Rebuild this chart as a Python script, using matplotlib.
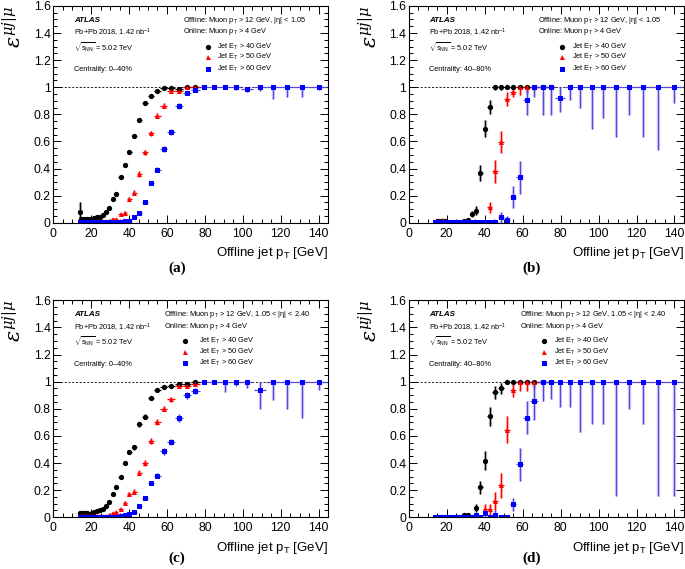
import matplotlib
matplotlib.use("Agg")
import matplotlib.pyplot as plt
from matplotlib.ticker import MultipleLocator
import numpy as np

plt.rcParams['font.family'] = ['Liberation Sans', 'DejaVu Sans']
plt.rcParams['mathtext.fontset'] = 'custom'
plt.rcParams['mathtext.rm'] = 'Liberation Sans'
plt.rcParams['mathtext.it'] = 'Liberation Sans:italic'
plt.rcParams['mathtext.bf'] = 'Liberation Sans:bold'
plt.rcParams['mathtext.default'] = 'regular'

# bin centres of offline jet pT [GeV]
pt_bins = [13.9, 14.8, 15.8, 16.8, 17.9, 19.0, 20.2, 21.5, 22.9, 24.4, 26.0, 27.7, 29.4,
           31.3, 33.3, 35.5, 37.8, 40.2, 42.8, 45.5, 48.5, 51.6, 54.9, 58.4, 62.2, 66.2,
           70.5, 75.0, 79.8, 85.0, 90.4, 96.3, 102.5, 109.1, 116.1, 123.6, 131.5, 140.0]

# (a) |eta| < 1.05, 0-40 %
a_jet40 = [0.08, 0.03, 0.03, 0.025, 0.025, 0.03, 0.03, 0.035, 0.04, 0.045, 0.055, 0.08, 0.105,
           0.175, 0.21, 0.34, 0.425, 0.525, 0.64, 0.76, 0.885, 0.935, 0.97, 0.993, 0.993, 0.99, 1.0, 1.0]
a_jet40_err = [0.07, 0.01, 0.01, 0.008, 0.008, 0.008, 0.008, 0.008, 0.008, 0.008, 0.01, 0.01, 0.01,
               0.012, 0.012, 0.015, 0.015, 0.015, 0.015, 0.015, 0.012, 0.01, 0.008, 0.005, 0.005, 0.005, 0.003, 0.003]
a_jet50 = [0.005, 0.005, 0.005, 0.005, 0.008, 0.008, 0.01, 0.01, 0.01, 0.01, 0.012, 0.015, 0.015,
           0.025, 0.025, 0.065, 0.075, 0.175, 0.22, 0.36, 0.52, 0.66, 0.79, 0.865, 0.975, 0.975, 1.0, 1.0]
a_jet50_err = [0.005, 0.005, 0.005, 0.005, 0.005, 0.005, 0.005, 0.005, 0.005, 0.005, 0.006, 0.006, 0.006,
               0.008, 0.008, 0.01, 0.012, 0.015, 0.018, 0.02, 0.02, 0.02, 0.018, 0.015, 0.012, 0.012, 0.005, 0.005]
a_jet60 = [0.003, 0.003, 0.003, 0.003, 0.003, 0.003, 0.003, 0.003, 0.003, 0.004, 0.004, 0.004, 0.005,
           0.005, 0.006, 0.008, 0.01, 0.015, 0.04, 0.07, 0.155, 0.29, 0.39, 0.545, 0.67, 0.86,
           0.955, 0.98, 1.0, 1.0, 1.0, 1.0, 0.985, 1.0, 1.0, 1.0, 1.0, 1.0]
a_jet60_err = [0.003, 0.003, 0.003, 0.003, 0.003, 0.003, 0.003, 0.003, 0.003, 0.003, 0.003, 0.003, 0.004,
               0.004, 0.004, 0.005, 0.005, 0.006, 0.008, 0.01, 0.012, 0.015, 0.018, 0.02, 0.022, 0.02,
               0.015, 0.012, 0.008, 0.01, 0.012, 0.02, 0.022, 0.025, 0.09, 0.07, 0.07, 0.02]

# (b) |eta| < 1.05, 40-80 %
b_jet40 = [0.0, 0.01, 0.01, 0.01, 0.015, 0.01, 0.005, 0.005, 0.005, 0.005, 0.005, 0.005, 0.015,
           0.02, 0.065, 0.09, 0.365, 0.695, 0.855, 1.0, 1.0, 1.0, 1.0, 1.0, 1.0, 1.0, 1.0, 1.0]
b_jet40_err = [0.005, 0.008, 0.008, 0.008, 0.01, 0.008, 0.005, 0.005, 0.005, 0.005, 0.005, 0.005, 0.008,
               0.01, 0.02, 0.03, 0.06, 0.06, 0.05, 0.02, 0.02, 0.01, 0.01, 0.01, 0.01, 0.01, 0.01, 0.01]
b_jet50 = [0.0, 0.01, 0.01, 0.015, 0.02, 0.01, 0.005, 0.005, 0.005, 0.005, 0.005, 0.005, 0.005,
           0.005, 0.005, 0.005, 0.005, 0.005, 0.115, 0.38, 0.595, 0.915, 0.965, 1.0, 1.0, 1.0, 1.0, 1.0]
b_jet50_err = [0.005, 0.008, 0.008, 0.01, 0.01, 0.008, 0.005, 0.005, 0.005, 0.005, 0.005, 0.005, 0.005,
               0.005, 0.005, 0.005, 0.005, 0.008, 0.04, 0.085, 0.08, 0.05, 0.04, 0.06, 0.04, 0.02, 0.01, 0.01]
b_jet60 = [0.003, 0.003, 0.003, 0.003, 0.003, 0.003, 0.003, 0.003, 0.003, 0.003, 0.003, 0.003, 0.003,
           0.003, 0.003, 0.003, 0.003, 0.003, 0.003, 0.003, 0.04, 0.02, 0.19, 0.335, 0.905, 1.0,
           1.0, 1.0, 0.92, 1.0, 1.0, 1.0, 1.0, 1.0, 1.0, 1.0, 1.0, 1.0]
b_jet60_err = [0.004, 0.004, 0.004, 0.004, 0.004, 0.004, 0.004, 0.004, 0.004, 0.004, 0.004, 0.004, 0.004,
               0.004, 0.004, 0.004, 0.004, 0.004, 0.004, 0.004, 0.04, 0.03, 0.08, 0.12, 0.11, 0.07,
               0.205, 0.205, 0.1, 0.095, 0.15, 0.31, 0.23, 0.37, 0.205, 0.37, 0.46, 0.12]

# (c) 1.05 < |eta| < 2.40, 0-40 %
c_jet40 = [0.035, 0.03, 0.035, 0.03, 0.03, 0.025, 0.035, 0.04, 0.045, 0.05, 0.06, 0.085, 0.11,
           0.17, 0.225, 0.295, 0.4, 0.48, 0.515, 0.685, 0.74, 0.88, 0.94, 0.96, 0.965, 0.985, 0.98, 1.0]
c_jet40_err = [0.012, 0.008, 0.008, 0.008, 0.008, 0.008, 0.008, 0.008, 0.008, 0.008, 0.01, 0.01, 0.012,
               0.012, 0.012, 0.012, 0.015, 0.015, 0.018, 0.018, 0.018, 0.015, 0.012, 0.01, 0.01, 0.01, 0.01, 0.005]
c_jet50 = [0.01, 0.01, 0.012, 0.01, 0.01, 0.008, 0.008, 0.01, 0.01, 0.01, 0.012, 0.01, 0.015,
           0.03, 0.04, 0.06, 0.105, 0.17, 0.19, 0.33, 0.4, 0.56, 0.705, 0.8, 0.87, 0.965, 0.965, 0.985]
c_jet50_err = [0.005, 0.005, 0.005, 0.005, 0.005, 0.005, 0.005, 0.005, 0.005, 0.005, 0.006, 0.006, 0.006,
               0.008, 0.008, 0.01, 0.012, 0.015, 0.015, 0.02, 0.02, 0.022, 0.022, 0.02, 0.02, 0.015, 0.015, 0.01]
c_jet60 = [0.003, 0.003, 0.003, 0.003, 0.003, 0.003, 0.003, 0.003, 0.003, 0.003, 0.003, 0.003, 0.003,
           0.003, 0.003, 0.007, 0.015, 0.025, 0.04, 0.08, 0.14, 0.25, 0.305, 0.485, 0.555, 0.73,
           0.9, 0.93, 1.0, 1.0, 1.0, 1.0, 1.0, 0.935, 1.0, 1.0, 1.0, 1.0]
c_jet60_err = [0.003, 0.003, 0.003, 0.003, 0.003, 0.003, 0.003, 0.003, 0.003, 0.003, 0.003, 0.003, 0.003,
               0.003, 0.003, 0.004, 0.005, 0.006, 0.008, 0.01, 0.012, 0.015, 0.018, 0.025, 0.025, 0.03,
               0.025, 0.02, 0.01, 0.02, 0.075, 0.03, 0.05, 0.14, 0.135, 0.2, 0.265, 0.06]

# (d) 1.05 < |eta| < 2.40, 40-80 %
d_jet40 = [0.0, 0.0, 0.0, 0.0, 0.0, 0.0, 0.005, 0.0, 0.0, 0.0, 0.0, 0.0, 0.017,
           0.017, 0.0, 0.07, 0.22, 0.415, 0.745, 0.92, 0.95, 1.0, 1.0, 1.0, 1.0, 1.0, 1.0, 1.0]
d_jet40_err = [0.005, 0.005, 0.005, 0.005, 0.005, 0.005, 0.005, 0.005, 0.005, 0.005, 0.005, 0.005, 0.01,
               0.01, 0.005, 0.03, 0.05, 0.07, 0.07, 0.045, 0.04, 0.02, 0.01, 0.01, 0.01, 0.01, 0.01, 0.01]
d_jet50 = [0.0, 0.0, 0.0, 0.0, 0.0, 0.0, 0.0, 0.0, 0.0, 0.0, 0.0, 0.0, 0.0,
           0.0, 0.0, 0.0, 0.0, 0.06, 0.06, 0.12, 0.235, 0.645, 0.935, 1.0, 1.0, 1.0, 1.0, 1.0]
d_jet50_err = [0.005, 0.005, 0.005, 0.005, 0.005, 0.005, 0.005, 0.005, 0.005, 0.005, 0.005, 0.005, 0.005,
               0.005, 0.005, 0.005, 0.005, 0.04, 0.04, 0.07, 0.09, 0.1, 0.05, 0.07, 0.07, 0.05, 0.02, 0.01]
d_jet60 = [0.0, 0.0, 0.0, 0.0, 0.0, 0.0, 0.0, 0.0, 0.0, 0.0, 0.0, 0.0, 0.0,
           0.0, 0.0, 0.015, 0.0, 0.03, 0.0, 0.02, 0.0, 0.0, 0.095, 0.39, 0.735, 0.86,
           1.0, 1.0, 1.0, 1.0, 1.0, 1.0, 1.0, 1.0, 1.0, 1.0, 1.0, 1.0]
d_jet60_err = [0.004, 0.004, 0.004, 0.004, 0.004, 0.004, 0.004, 0.004, 0.004, 0.004, 0.004, 0.004, 0.004,
               0.004, 0.004, 0.02, 0.005, 0.03, 0.005, 0.03, 0.005, 0.005, 0.05, 0.12, 0.12, 0.14,
               0.145, 0.125, 0.185, 0.185, 0.37, 0.31, 0.31, 0.84, 0.205, 0.31, 0.84, 0.84]

panels = [
    dict(tag='(a)', cent='0\u201340%', eta='|\u03b7| < 1.05', data=(a_jet40, a_jet40_err, a_jet50, a_jet50_err, a_jet60, a_jet60_err),
         rect=[0.0778, 0.6086, 0.401, 0.381], off_x=0.472, mk_x=0.564, lt_x=0.595, lab=(177, 268)),
    dict(tag='(b)', cent='40\u201380%', eta='|\u03b7| < 1.05', data=(b_jet40, b_jet40_err, b_jet50, b_jet50_err, b_jet60, b_jet60_err),
         rect=[0.5966, 0.6086, 0.4019, 0.381], off_x=0.469, mk_x=0.557, lt_x=0.593, lab=(532, 268)),
    dict(tag='(c)', cent='0\u201340%', eta='1.05 < |\u03b7| < 2.40', data=(c_jet40, c_jet40_err, c_jet50, c_jet50_err, c_jet60, c_jet60_err),
         rect=[0.0778, 0.0909, 0.401, 0.3814], off_x=0.403, mk_x=0.479, lt_x=0.53, lab=(177, 558)),
    dict(tag='(d)', cent='40\u201380%', eta='1.05 < |\u03b7| < 2.40', data=(d_jet40, d_jet40_err, d_jet50, d_jet50_err, d_jet60, d_jet60_err),
         rect=[0.5966, 0.0909, 0.4019, 0.3814], off_x=0.403, mk_x=0.49, lt_x=0.527, lab=(532, 558)),
]

series_style = [
    ('Jet E$_{T}$ > 40 GeV', 'black', 'black', 'o', 3.8),
    ('Jet E$_{T}$ > 50 GeV', 'red', 'red', '^', 3.6),
    ('Jet E$_{T}$ > 60 GeV', 'blue', '#5544dd', 's', 3.6),
]


def draw_series(ax, y, err, color, ecolor, marker, ms):
    y = np.array(y)
    err = np.array(err)
    x = np.array(pt_bins[:len(y)])
    lo = np.minimum(err, y)
    hi = np.minimum(err, 1 - y)
    xe = 0.031 * x
    # lighter band + thin line, like the ROOT drawing
    ax.errorbar(x, y, yerr=[lo, hi], fmt='none', ecolor=ecolor, elinewidth=2.4, alpha=0.25)
    ax.errorbar(x, y, xerr=xe, yerr=[lo, hi], fmt=marker, color=color, ecolor=ecolor,
                elinewidth=0.9, ms=ms, capsize=0, mew=0)


fig = plt.figure(figsize=(6.85, 5.69), dpi=100)

for p in panels:
    ax = fig.add_axes(p['rect'])
    d = p['data']
    for i, (lab, col, ecol, mk, ms) in enumerate(series_style):
        draw_series(ax, d[2 * i], d[2 * i + 1], col, ecol, mk, ms)

    ax.axhline(1, ls=(0, (2.5, 2)), lw=0.6, color='black', zorder=0)
    ax.set_xlim(0, 145)
    ax.set_ylim(0, 1.6)
    ax.xaxis.set_major_locator(MultipleLocator(20))
    ax.xaxis.set_minor_locator(MultipleLocator(5))
    ax.yaxis.set_minor_locator(MultipleLocator(0.05))
    ax.set_yticks([0, 0.2, 0.4, 0.6, 0.8, 1.0, 1.2, 1.4, 1.6])
    ax.set_yticklabels(['0', '0.2', '0.4', '0.6', '0.8', '1', '1.2', '1.4', '1.6'])
    ax.tick_params(which='both', direction='in', top=True, right=True, labelsize=8.8, width=0.7)
    ax.tick_params(which='major', length=5.5)
    ax.tick_params(which='minor', length=2.8)
    ax.tick_params(axis='x', pad=3.5)
    ax.tick_params(axis='y', pad=1.8)
    for s in ax.spines.values():
        s.set_linewidth(0.8)

    ax.set_xlabel('Offline jet p$_{T}$ [GeV]', fontsize=9.5, loc='right')
    ax.xaxis.set_label_coords(1.0, -0.105)
    ax.set_ylabel(r'$\mathit{\varepsilon}^{\mathit{\mu j|\mu}}$', fontsize=15, loc='top',
                  math_fontfamily='dejavuserif')
    ax.yaxis.set_label_coords(-0.10, 1.0)

    fs = 5.3
    ax.text(0.075, 0.935, 'ATLAS', transform=ax.transAxes, fontsize=5.8,
            fontweight='bold', fontstyle='italic', va='center')
    ax.text(0.075, 0.874, 'Pb+Pb 2018, 1.42 nb$^{-1}$', transform=ax.transAxes, fontsize=fs, va='center')
    ax.text(0.075, 0.812, r'$\sqrt{s_{NN}}$ = 5.02 TeV', transform=ax.transAxes, fontsize=fs, va='center')
    ax.text(0.075, 0.705, 'Centrality: ' + p['cent'], transform=ax.transAxes, fontsize=fs, va='center')

    ax.text(p['off_x'], 0.935, 'Offline: Muon p$_{T}$ > 12 GeV, ' + p['eta'],
            transform=ax.transAxes, fontsize=fs, va='center')
    ax.text(p['off_x'], 0.881, 'Online: Muon p$_{T}$ > 4 GeV',
            transform=ax.transAxes, fontsize=fs, va='center')
    for (lab, col, ecol, mk, ms), yy in zip(series_style, [0.812, 0.763, 0.71]):
        ax.plot([p['mk_x']], [yy], marker=mk, color=col, ms=ms, mew=0, transform=ax.transAxes)
        ax.text(p['lt_x'], yy, lab, transform=ax.transAxes, fontsize=fs, va='center')

    fig.text(p['lab'][0] / 685, 1 - p['lab'][1] / 569, p['tag'], ha='center', va='center',
             family='Liberation Serif', fontweight='bold', fontsize=11)

fig.savefig('out.png', dpi=100)
